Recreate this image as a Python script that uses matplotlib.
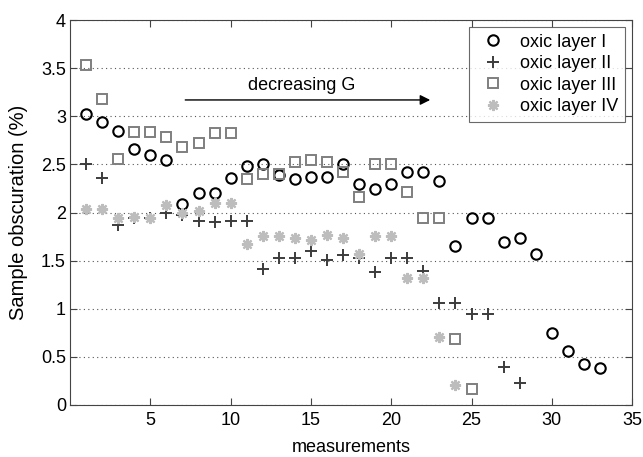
import numpy as np
import matplotlib
matplotlib.use('Agg')
import matplotlib.pyplot as plt

plt.rcParams['font.family'] = ['Liberation Sans', 'DejaVu Sans']

# measurement numbers and obscuration values (%) per layer
x1 = np.arange(1, 34)
layer1 = [3.02, 2.94, 2.85, 2.66, 2.60, 2.55, 2.09, 2.20, 2.20, 2.355,
          2.48, 2.50, 2.39, 2.345, 2.37, 2.37, 2.50, 2.30, 2.24, 2.30,
          2.42, 2.42, 2.33, 1.65, 1.94, 1.94, 1.69, 1.73, 1.57, 0.745,
          0.56, 0.42, 0.38]

x2 = np.arange(1, 29)
layer2 = [2.50, 2.355, 1.87, 1.94, 1.94, 1.99, 1.97, 1.915, 1.905, 1.915,
          1.915, 1.41, 1.53, 1.53, 1.60, 1.51, 1.56, 1.53, 1.38, 1.53,
          1.53, 1.39, 1.06, 1.06, 0.94, 0.94, 0.39, 0.23]

x3 = np.arange(1, 26)
layer3 = [3.53, 3.18, 2.56, 2.84, 2.84, 2.79, 2.68, 2.72, 2.83, 2.83,
          2.35, 2.40, 2.40, 2.52, 2.545, 2.52, 2.42, 2.16, 2.50, 2.50,
          2.21, 1.94, 1.94, 0.68, 0.17]

x4 = np.arange(1, 25)
layer4 = [2.04, 2.04, 1.94, 1.95, 1.94, 2.08, 2.00, 2.02, 2.10, 2.10,
          1.67, 1.76, 1.76, 1.74, 1.71, 1.77, 1.74, 1.57, 1.76, 1.76,
          1.32, 1.32, 0.71, 0.21]

fs = 13

fig = plt.figure(figsize=(6.43, 4.57), dpi=100)
ax = fig.add_axes([0.109, 0.114, 0.874, 0.842])

ax.plot(x1, layer1, 'o', mfc='none', mec='black', mew=1.5, ms=7.5, label='oxic layer I')
ax.plot(x2, layer2, '+', color='#3c3c3c', mew=1.4, ms=9, label='oxic layer II')
ax.plot(x3, layer3, 's', mfc='none', mec='#7f7f7f', mew=1.4, ms=7, label='oxic layer III')
ax.plot(x4, layer4, marker=(8, 2, 0), ls='none', color='#bdbdbd', mew=1.6, ms=8,
        label='oxic layer IV')

ax.annotate('', xy=(22.6, 3.17), xytext=(7.0, 3.17),
            arrowprops=dict(arrowstyle='-|>', color='black', lw=1.0,
                            mutation_scale=15))
ax.text(14.4, 3.32, 'decreasing G', ha='center', va='center', fontsize=fs)

ax.set_xlim(0, 35)
ax.set_ylim(0, 4)
ax.set_xticks([5, 10, 15, 20, 25, 30, 35])
ax.set_yticks([0, 0.5, 1, 1.5, 2, 2.5, 3, 3.5, 4])
ax.set_yticklabels(['0', '0.5', '1', '1.5', '2', '2.5', '3', '3.5', '4'])
ax.yaxis.grid(True, linestyle=(0, (1, 3)), color='#555555', lw=0.8)
ax.tick_params(direction='in', top=True, right=True, labelsize=fs, length=5,
               color='#444444')
ax.tick_params(axis='x', pad=5)
ax.tick_params(axis='y', pad=3)
for s in ax.spines.values():
    s.set_color('#444444')

ax.set_xlabel('measurements', fontsize=fs, labelpad=7)
ax.set_ylabel('Sample obscuration (%)', fontsize=fs + 1.5, labelpad=9)

leg = ax.legend(loc='upper right', fontsize=fs, frameon=True, fancybox=False,
                edgecolor='#444444', borderaxespad=0.4, handletextpad=0.5,
                labelspacing=0.25, borderpad=0.35)
leg.get_frame().set_linewidth(0.8)

fig.savefig('out.png', dpi=100)
